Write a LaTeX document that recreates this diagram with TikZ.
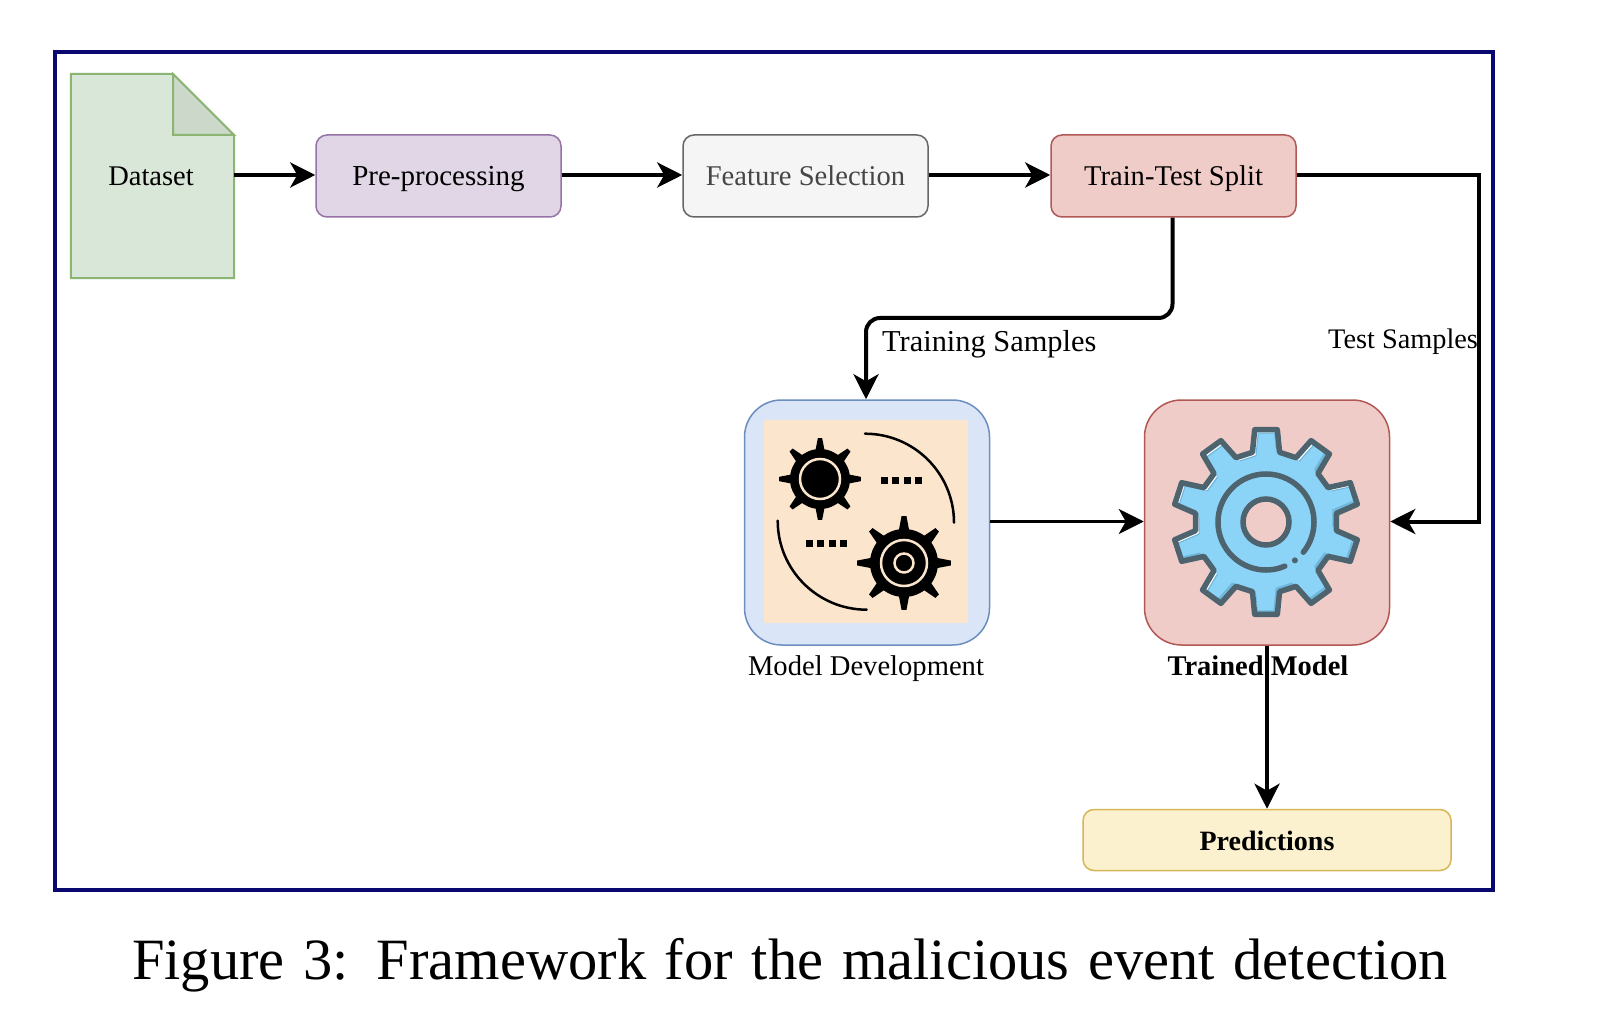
\documentclass[tikz,border=0pt]{standalone}
\usepackage{fontspec}
\setmainfont{Liberation Serif}
\usetikzlibrary{arrows.meta}
\definecolor{navyframe}{HTML}{08086E}
\definecolor{gearline}{HTML}{4D646F}
\definecolor{gearblue}{HTML}{8CD3F8}
\definecolor{geardark}{HTML}{6FB7DC}
\definecolor{peach}{HTML}{FBE5CD}
\definecolor{pinkfill}{HTML}{F0CCC9}
\newcommand{\fs}[1]{\fontsize{#1}{#1}\selectfont}
% #1 teeth-1, #2 spacing, #3 offset, #4 root r, #5 tip r, #6 root half-angle, #7 tip half-angle
\newcommand{\gearoutline}[7]{({#3-#6}:#4) \foreach \i in {0,...,#1} { -- ({\i*#2+#3-#6}:#4) -- ({\i*#2+#3-#7}:#5) -- ({\i*#2+#3+#7}:#5) -- ({\i*#2+#3+#6}:#4) } -- cycle}
\newcommand{\bluegear}{\gearoutline{9}{36}{90}{71}{93}{11}{7}}
\tikzset{
  flowbox/.style={draw,rounded corners=11pt,minimum width=245pt,minimum height=82pt,inner sep=0pt,line width=1.5pt,text height=25.5pt,text depth=6pt},
  bigbox/.style={draw,rounded corners=37pt,minimum width=245pt,minimum height=245pt,inner sep=0pt,line width=1.5pt},
  label/.style={inner sep=0pt,text=black},
  flow/.style={line width=4pt,-{Stealth[length=25pt,width=25pt,inset=7pt]}},
  thinflow/.style={line width=3pt,-{Stealth[length=25pt,width=25pt,inset=7pt]}},
  darts/.style={fill=black,draw=none}
}
\begin{document}
\begin{tikzpicture}[x=1pt,y=-1pt]
\useasboundingbox (0,0) rectangle (1604,1032);
\fill[white] (0,0) rectangle (1604,1032);
\node[draw=navyframe,line width=4pt,minimum width=1438pt,minimum height=838pt,inner sep=0pt] (frame) at (774,471) {};

% Dataset
\node[inner sep=0pt,minimum width=163pt,minimum height=204pt] (dataset) at (152.5,176) {};
\draw[draw={rgb,255:red,140;green,181;blue,115},fill={rgb,255:red,217;green,231;blue,216},line width=2pt,line join=miter]
  (dataset.north west) -- (173,74) -- (234,135) -- (dataset.south east) -- (dataset.south west) -- cycle;
\draw[draw={rgb,255:red,140;green,181;blue,115},fill={rgb,255:red,204;green,216;blue,201},line width=2pt]
  (173,74) -- (234,135) -- (173,135) -- cycle;
\node[label,font=\fs{28.5}] (datasetlabel) at (151,176) {Dataset};

% Flow boxes
\node[flowbox,draw={rgb,255:red,150;green,115;blue,166},fill={rgb,255:red,224;green,214;blue,230},font=\fs{29}] (pre) at (438.5,176) {Pre-processing};
\node[flowbox,draw={rgb,255:red,102;green,102;blue,102},fill={rgb,255:red,245;green,245;blue,245},text={rgb,255:red,70;green,70;blue,70},font=\fs{28.6}] (feat) at (805.5,176) {Feature Selection};
\node[flowbox,draw={rgb,255:red,178;green,88;blue,84},fill=pinkfill,font=\fs{28.6}] (split) at (1173.5,176) {Train-Test Split};

% Big boxes
\node[bigbox,draw={rgb,255:red,108;green,142;blue,191},fill={rgb,255:red,218;green,229;blue,247}] (dev) at (867,522.5) {};
\node[bigbox,draw={rgb,255:red,178;green,88;blue,84},fill=pinkfill] (trained) at (1267,522.5) {};
\node[flowbox,minimum width=368pt,minimum height=61pt,draw={rgb,255:red,214;green,182;blue,86},fill={rgb,255:red,252;green,241;blue,207},font=\bfseries\fs{28},text height=20pt,text depth=0pt] (pred) at (1267,840) {Predictions};

% Model Development icon
\fill[peach] (764,420) rectangle (968,623);
\begin{scope}[shift={(820,479)},y=1pt]
  \fill[black] \gearoutline{7}{45}{0}{29}{41}{9}{3};
  \fill[black] (0,0) circle (30);
  \draw[peach,line width=2.5pt] (0,0) circle (20);
\end{scope}
\begin{scope}[shift={(904,563)},y=1pt]
  \fill[black] \gearoutline{7}{45}{0}{33}{47}{9}{3};
  \fill[black] (0,0) circle (34);
  \draw[peach,line width=2.5pt] (0,0) circle (23);
  \draw[peach,line width=2.5pt] (0,0) circle (9.5);
\end{scope}
\begin{scope}[shift={(865,522.7)},y=1pt]
  \draw[line width=2.5pt,line cap=round] (90:89) arc[start angle=90,end angle=0,radius=89];
\end{scope}
\begin{scope}[shift={(866.7,520.7)},y=1pt]
  \draw[line width=2.5pt,line cap=round] (180:89) arc[start angle=180,end angle=270,radius=89];
\end{scope}
\foreach \x in {881,892,904,915} \fill[darts] (\x,476.7) rectangle +(7,7);
\foreach \x in {806,817,829,840} \fill[darts] (\x,540) rectangle +(7,7);

% Trained Model icon
\begin{scope}[shift={(1266,522)},y=1pt]
  \begin{scope}
    \clip \bluegear;
    \fill[white] (-100,-100) rectangle (100,100);
    \fill[geardark,shift={(3,-3)}] \bluegear;
    \begin{scope}[shift={(4,-4)}]
      \clip \bluegear;
      \fill[gearblue,shift={(-8,8)}] \bluegear;
    \end{scope}
  \end{scope}
  \fill[pinkfill] (0,0) circle (23);
  \draw[gearline,line width=5.5pt,line join=round] \bluegear;
  \draw[gearline,line width=5.5pt] (0,0) circle (23);
  \draw[gearline,line width=5.5pt,line cap=round] (-67:48) arc[start angle=-67,end angle=-399,radius=48];
  \fill[gearline] (-53:48) circle (3);
\end{scope}

% Labels
\node[label,font=\fs{28.6}] (devlabel) at (866,669) {Model Development};
\node[label,font=\bfseries\fs{28.5}] (trainedlabel) at (1258,666) {Trained Model};
\node[label,font=\fs{30.4},anchor=west] (trainlabel) at (882,344) {Training Samples};
\node[label,font=\fs{28.3},anchor=west] (testlabel) at (1328,342) {Test Samples};
\node[label,font=\fs{58.5}] (caption) at (790,965) {\makebox[1316pt][s]{Figure 3: Framework for the malicious event detection}};

% Connectors
\coordinate (row) at (0,175);
\coordinate (trainbend) at (1172.5,318);
\coordinate (devbend) at (866,318);
\coordinate (testbend) at (1479,175);
\coordinate (testdown) at (1479,521.5);
\coordinate (crossrow) at (0,521.5);
\draw[flow] (dataset.east |- row) -- (pre.west |- row);
\draw[flow] (pre.east |- row) -- (feat.west |- row);
\draw[flow] (feat.east |- row) -- (split.west |- row);
\draw[flow,rounded corners=14pt] (trainbend |- split.south) -- (trainbend) -- (devbend) -- (devbend |- dev.north);
\draw[flow] (split.east |- row) -- (testbend) -- (testdown) -- (trained.east |- crossrow);
\draw[thinflow] (dev.east |- crossrow) -- (trained.west |- crossrow);
\draw[flow] (trained.south) -- (pred.north);
\end{tikzpicture}
\end{document}
